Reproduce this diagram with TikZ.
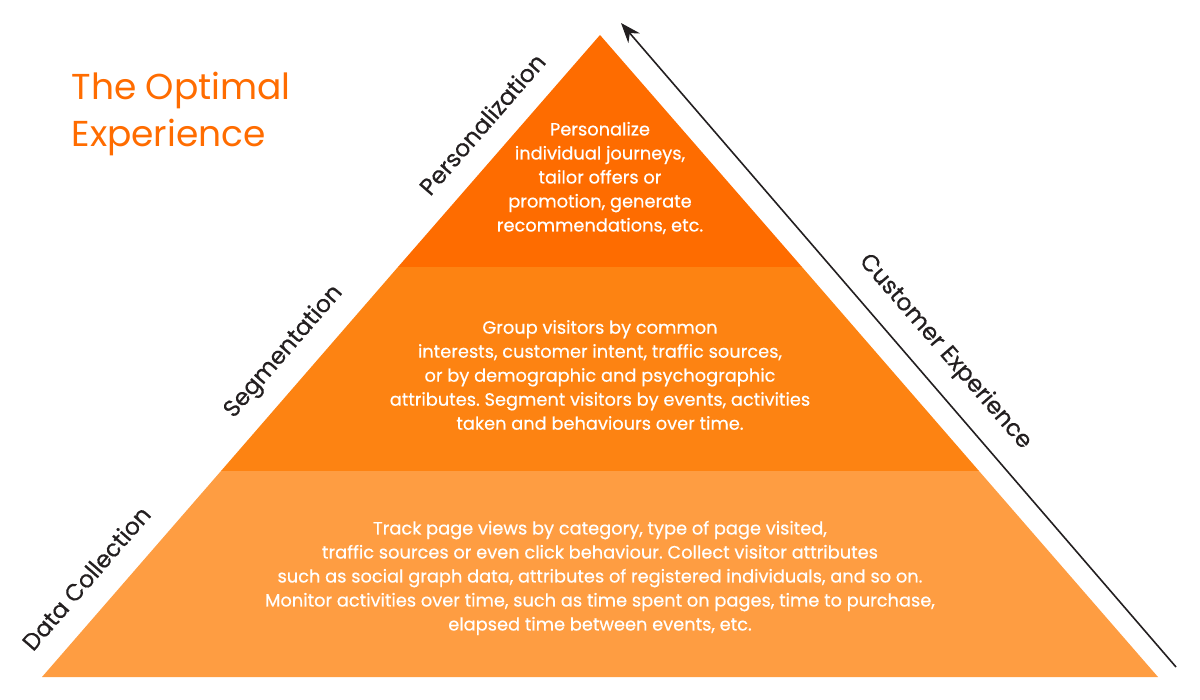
\documentclass[tikz,border=0pt]{standalone}
\usepackage{fontspec}
\setmainfont{Poppins}
\newfontfamily\medfont{Poppins}[FakeBold=0.5]
\usetikzlibrary{arrows.meta}
\definecolor{toporange}{RGB}{254,108,0}
\definecolor{midorange}{RGB}{253,131,18}
\definecolor{loworange}{RGB}{254,157,66}
\definecolor{titleorange}{RGB}{255,108,0}
\definecolor{labelgray}{RGB}{35,31,32}
\frenchspacing

\begin{document}
\begin{tikzpicture}[x=1pt, y=-1pt, >={Stealth[length=20pt,width=15pt]},
    bodytext/.style={text=white, align=center, font=\medfont\fontsize{17.8}{24}\selectfont},
    sidelabel/.style={text=labelgray, font=\medfont\fontsize{23.5}{28}\selectfont}]
    \useasboundingbox (0,0) rectangle (1200,700);

    % pyramid corners
    \coordinate (apex) at (600,35);
    \coordinate (bl) at (42,677);
    \coordinate (br) at (1158,677);
    \coordinate (ul) at (398,267);
    \coordinate (ur) at (802,267);
    \coordinate (ml) at (221,471);
    \coordinate (mr) at (979,471);

    % bands
    \fill[loworange] (bl) -- (br) -- (mr) -- (ml) -- cycle;
    \fill[midorange] (ml) -- (mr) -- (ur) -- (ul) -- cycle;
    \fill[toporange] (ul) -- (ur) -- (apex) -- cycle;

    % band texts
    \node[bodytext] (toptext) at (600,178) {Personalize\\individual journeys,\\tailor offers or\\promotion, generate\\recommendations, etc.};
    \node[bodytext] (midtext) at (600,375) {Group visitors by common\\interests, customer intent, traffic sources,\\or by demographic and psychographic\\attributes. Segment visitors by events, activities\\taken and behaviours over time.};
    \node[bodytext] (lowtext) at (600,578) {Track page views by category, type of page visited,\\traffic sources or even click behaviour. Collect visitor attributes\\such as social graph data, attributes of registered individuals, and so on.\\Monitor activities over time, such as time spent on pages, time to purchase,\\elapsed time between events, etc.};

    % title
    \node[anchor=north west, align=left, text=titleorange, font=\fontsize{36}{47}\selectfont] (title) at (68,69) {The Optimal\\Experience};

    % side labels
    \node[sidelabel, rotate=49] (perslabel) at (482,124) {Personalization};
    \node[sidelabel, rotate=49] (seglabel) at (284,352) {Segmentation};
    \node[sidelabel, rotate=49] (datalabel) at (86,578) {Data Collection};
    \node[sidelabel, rotate=-49] (custlabel) at (945,352) {Customer Experience};

    % experience arrow
    \coordinate (arrowtail) at (1176,667);
    \coordinate (arrowtip) at (621,23);
    \draw[->, line width=1.6pt, labelgray] (arrowtail) -- (arrowtip);
\end{tikzpicture}
\end{document}
